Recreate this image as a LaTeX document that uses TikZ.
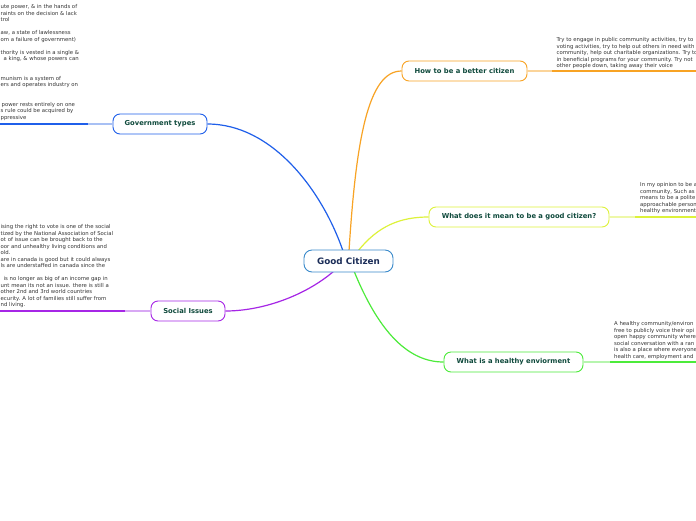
\documentclass[tikz,border=0pt]{standalone}
\usepackage{fontspec}
\setmainfont{DejaVu Sans}
\definecolor{gcborder}{HTML}{3A8ACB}
\definecolor{gctext}{HTML}{1B2D58}
\definecolor{ttext}{HTML}{0F4A3C}
\definecolor{cblue}{HTML}{1F5FEA}
\definecolor{lblue}{HTML}{A8C0F4}
\definecolor{corange}{HTML}{F8A324}
\definecolor{lorange}{HTML}{FBD49A}
\definecolor{cyellow}{HTML}{DDF23A}
\definecolor{lyellow}{HTML}{EEF8A8}
\definecolor{cgreen}{HTML}{4CEB3A}
\definecolor{lgreen}{HTML}{B6F5AE}
\definecolor{cpurple}{HTML}{A626E6}
\definecolor{lpurple}{HTML}{D8A8F4}
\definecolor{smalltext}{HTML}{333333}
\pgfdeclarelayer{bg}
\pgfsetlayers{bg,main}
\begin{document}
\begin{tikzpicture}[x=1pt,y=-1pt,
  central/.style={draw=gcborder, line width=0.9pt, rounded corners=8pt, fill=white,
    text=gctext, font=\fontsize{8.8}{10}\selectfont\bfseries,
    minimum width=89pt, minimum height=22pt, inner sep=0pt},
  topic/.style={rounded corners=7pt, line width=0.9pt, fill=white,
    text=ttext, font=\fontsize{6.8}{8}\selectfont\bfseries,
    minimum height=20pt, inner sep=0pt},
  note/.style={anchor=north west, align=left, inner sep=0pt, text=smalltext,
    font=\fontsize{5.35}{6.5}\selectfont},
  branch/.style={line width=1.2pt},
  stub/.style={line width=1.3pt},
  leaf/.style={line width=1.8pt}
]
\useasboundingbox (0,0) rectangle (696,520);
\clip (0,0) rectangle (696,520);
\begin{pgfonlayer}{bg}
\fill[white] (0,0) rectangle (696,520);
\end{pgfonlayer}

% coordinates for leaf lines
\coordinate (govL) at (88,124);
\coordinate (govE) at (0,124);
\coordinate (socL) at (125,311);
\coordinate (socE) at (0,311);
\coordinate (howL) at (552,71);
\coordinate (howE) at (697,71);
\coordinate (whatL) at (635,217);
\coordinate (whatE) at (697,217);
\coordinate (healL) at (610,362);
\coordinate (healE) at (697,362);

% branch roots on the central node
\coordinate (gcTop1) at (343,251);
\coordinate (gcTop2) at (349,251);
\coordinate (gcTop3) at (358,251);
\coordinate (gcBot1) at (334,271);
\coordinate (gcBot2) at (354,271);

% nodes
\node[central] (gc) at (348.5,261) {Good Citizen};
\node[topic, draw=cblue, minimum width=94pt] (gov) at (160,124) {Government types};
\node[topic, draw=corange, minimum width=125pt] (how) at (464.5,71) {How to be a better citizen};
\node[topic, draw=cyellow, minimum width=180pt] (what) at (519,217) {What does it mean to be a good citizen?};
\node[topic, draw=cgreen, minimum width=139pt] (heal) at (513.5,362) {What is a healthy enviorment};
\node[topic, draw=cpurple, minimum width=74pt] (soc) at (188,311) {Social Issues};

\begin{pgfonlayer}{bg}
\draw[branch, cblue] (gcTop1) .. controls (322,190) and (272,124) .. (gov.east);
\draw[branch, corange] (gcTop2) .. controls (356,140) and (368,71) .. (how.west);
\draw[branch, cyellow] (gcTop3) .. controls (378,226) and (400,217) .. (what.west);
\draw[branch, cgreen] (gcBot2) .. controls (380,335) and (410,362) .. (heal.west);
\draw[branch, cpurple] (gcBot1) .. controls (305,296) and (262,311) .. (soc.east);
\end{pgfonlayer}

% leaf lines
\draw[stub, lblue] (gov.west) -- (govL);
\draw[leaf, cblue] (govL) -- (govE);
\draw[stub, lpurple] (soc.west) -- (socL);
\draw[leaf, cpurple] (socL) -- (socE);
\draw[stub, lorange] (how.east) -- (howL);
\draw[leaf, corange] (howL) -- (howE);
\draw[stub, lyellow] (what.east) -- (whatL);
\draw[leaf, cyellow] (whatL) -- (whatE);
\draw[stub, lgreen] (heal.east) -- (healL);
\draw[leaf, cgreen] (healL) -- (healE);

% notes
\node[note] (govtext) at (0.5,4.3) {ute power, \& in the hands of\\
raints on the decision \& lack\\
trol\\
\mbox{}\\
aw, a state of lawlessness\\
om a failure of government)\\
\mbox{}\\
thority is vested in a single \&\\
\hspace*{3pt}a king, \& whose powers can\\
\mbox{}\\
\mbox{}\\
munism is a system of\\
ers and operates industry on\\
\mbox{}\\
\mbox{}\\
\hspace*{1pt}power rests entirely on one\\
s rule could be acquired by\\
ppressive};

\node[note] (soctext) at (0.5,224.3) {ising the right to vote is one of the social\\
tized by the National Association of Social\\
ot of issue can be brought back to the\\
oor and unhealthy living conditions and\\
old.\\
are in canada is good but it could always\\
ls are understaffed in canada since the\\
\mbox{}\\
\hspace*{3pt}is no longer as big of an income gap in\\
unt mean its not an issue. there is still a\\
other 2nd and 3rd world countries\\
ecurity. A lot of families still suffer from\\
nd living.};

\node[note] (howtext) at (556.5,37.3) {Try to engage in public community activities, try to\\
voting activities, try to help out others in need with\\
community, help out charitable organizations. Try to\\
in beneficial programs for your community. Try not\\
other people down, taking away their voice};

\node[note] (whattext) at (640,182.3) {In my opinion to be a\\
community, Such as\\
means to be a polite\\
approachable person\\
healthy environment};

\node[note] (healtext) at (614,321.3) {A healthy community/environ\\
free to publicly voice their opi\\
open happy community where\\
social conversation with a ran\\
is also a place where everyone\\
health care, employment and};
\end{tikzpicture}
\end{document}
